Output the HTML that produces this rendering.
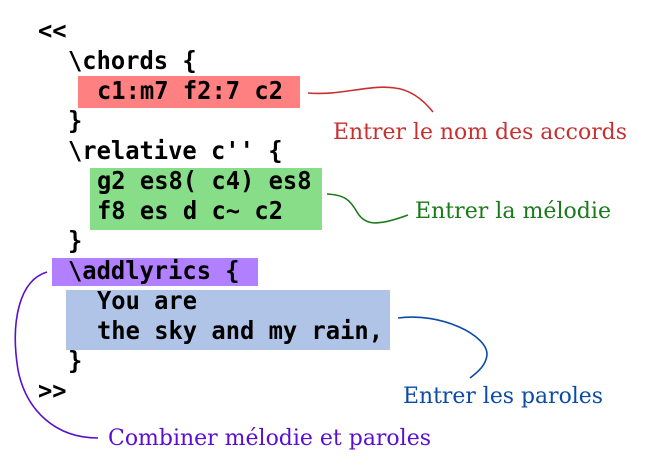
<!DOCTYPE html>
<html><head><meta charset="utf-8"><style>
html,body{margin:0;padding:0;background:#fff;}
svg{display:block}
.m{font-family:"DejaVu Sans Mono","Liberation Mono",monospace;font-weight:bold;font-size:25px;fill:#000}
.s{font-family:"DejaVu Serif","Liberation Serif",serif;font-size:22px}
</style></head><body>
<svg width="660" height="470" viewBox="0 0 660 470" xmlns="http://www.w3.org/2000/svg">
<rect x="78" y="76" width="222" height="32" fill="#ff8080"/>
<rect x="90" y="168" width="232" height="62" fill="#88dd88"/>
<rect x="52" y="258" width="206" height="28" fill="#b080ff"/>
<rect x="66" y="290" width="324" height="60" fill="#b0c4e8"/>
<text class="m" x="38" y="39" textLength="28.6" lengthAdjust="spacingAndGlyphs">&lt;&lt;</text>
<text class="m" x="68" y="69" textLength="128.7" lengthAdjust="spacingAndGlyphs">\chords {</text>
<text class="m" x="97" y="99" textLength="186" lengthAdjust="spacingAndGlyphs">c1:m7 f2:7 c2</text>
<text class="m" x="68" y="129" textLength="14.3" lengthAdjust="spacingAndGlyphs">}</text>
<text class="m" x="68" y="159" textLength="214.5" lengthAdjust="spacingAndGlyphs">\relative c'' {</text>
<text class="m" x="97" y="189" textLength="214.5" lengthAdjust="spacingAndGlyphs">g2 es8( c4) es8</text>
<text class="m" x="97" y="219" textLength="186" lengthAdjust="spacingAndGlyphs">f8 es d c~ c2</text>
<text class="m" x="68" y="249" textLength="14.3" lengthAdjust="spacingAndGlyphs">}</text>
<text class="m" x="68" y="279" textLength="171.6" lengthAdjust="spacingAndGlyphs">\addlyrics {</text>
<text class="m" x="97" y="309" textLength="100" lengthAdjust="spacingAndGlyphs">You are</text>
<text class="m" x="97" y="339" textLength="286" lengthAdjust="spacingAndGlyphs">the sky and my rain,</text>
<text class="m" x="68" y="369" textLength="14.3" lengthAdjust="spacingAndGlyphs">}</text>
<text class="m" x="38" y="399" textLength="28.6" lengthAdjust="spacingAndGlyphs">&gt;&gt;</text>
<g fill="none" stroke-width="1.6">
<path d="M308,93 C340,96 370,84 395,88 C412,90 425,102 433,112" stroke="#c83030"/>
<path d="M327,194 C345,195 350,200 357,212 C365,226 378,226 408,215" stroke="#1a7a1a"/>
<path d="M398,318 C440,312 488,335 487,355 C486,365 478,372 470,378" stroke="#0b4aa8"/>
<path d="M47,272 C20,280 10,320 18,370 C26,410 55,438 98,438" stroke="#5a0fd0"/>
</g>
<text class="s" x="333" y="139" fill="#c83030" textLength="294" lengthAdjust="spacingAndGlyphs">Entrer le nom des accords</text>
<text class="s" x="415" y="218" fill="#1a7a1a" textLength="196" lengthAdjust="spacingAndGlyphs">Entrer la mélodie</text>
<text class="s" x="403" y="403" fill="#0b4aa8" textLength="200" lengthAdjust="spacingAndGlyphs">Entrer les paroles</text>
<text class="s" x="108" y="445" fill="#5a0fd0" textLength="323" lengthAdjust="spacingAndGlyphs">Combiner mélodie et paroles</text>
</svg>
</body></html>
